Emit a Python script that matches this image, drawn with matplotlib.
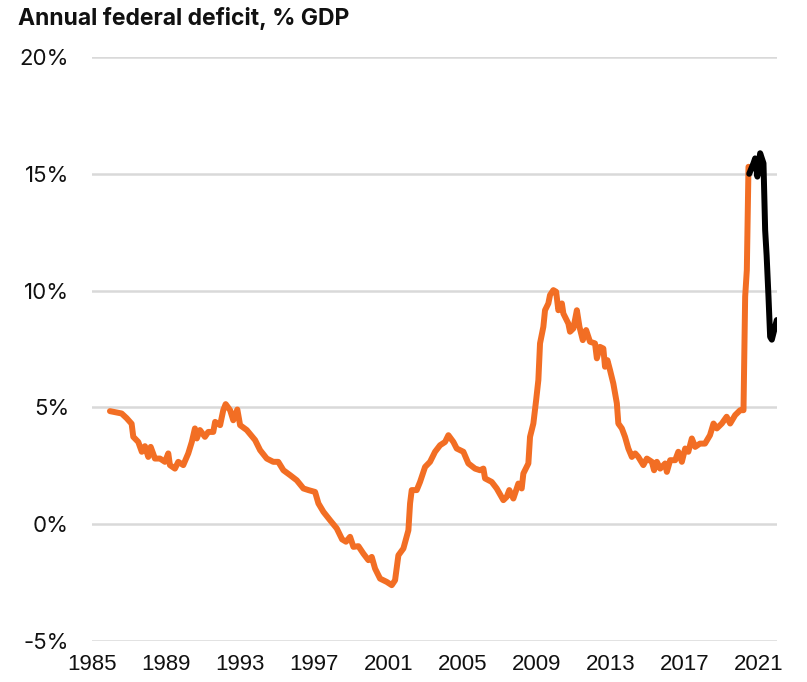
import matplotlib
matplotlib.use("Agg")
import matplotlib.pyplot as plt

# Annual federal deficit, % of GDP
hist_years = [1985.97, 1986.60, 1986.87, 1987.14, 1987.23, 1987.50, 1987.69, 1987.86, 1988.04, 1988.17,
              1988.40, 1988.67, 1988.94, 1989.12, 1989.21, 1989.48, 1989.66, 1989.93, 1990.20, 1990.39,
              1990.56, 1990.66, 1990.83, 1991.10, 1991.28, 1991.55, 1991.65, 1991.92, 1992.09, 1992.22,
              1992.46, 1992.63, 1992.85, 1993.00, 1993.36, 1993.81, 1994.08, 1994.44, 1994.79, 1995.06,
              1995.34, 1995.70, 1996.06, 1996.42, 1996.69, 1997.05, 1997.23, 1997.50, 1997.86, 1998.22,
              1998.51, 1998.72, 1998.94, 1999.12, 1999.39, 1999.66, 1999.93, 2000.11, 2000.29, 2000.56,
              2000.92, 2001.19, 2001.37, 2001.55, 2001.82, 2002.09, 2002.18, 2002.27, 2002.54, 2002.72,
              2002.99, 2003.26, 2003.53, 2003.80, 2004.07, 2004.25, 2004.52, 2004.70, 2005.06, 2005.33,
              2005.69, 2005.96, 2006.14, 2006.23, 2006.59, 2006.86, 2007.22, 2007.40, 2007.54, 2007.76,
              2008.03, 2008.21, 2008.30, 2008.57, 2008.66, 2008.84, 2008.99, 2009.11, 2009.20, 2009.38,
              2009.47, 2009.65, 2009.74, 2009.92, 2010.07, 2010.19, 2010.38, 2010.46, 2010.73, 2010.82,
              2011.00, 2011.19, 2011.33, 2011.51, 2011.69, 2011.90, 2012.17, 2012.27, 2012.44, 2012.62,
              2012.71, 2012.84, 2012.98, 2013.16, 2013.35, 2013.43, 2013.62, 2013.79, 2013.97, 2014.16,
              2014.34, 2014.51, 2014.78, 2014.97, 2015.24, 2015.36, 2015.51, 2015.69, 2015.96, 2016.05,
              2016.23, 2016.50, 2016.67, 2016.86, 2017.04, 2017.21, 2017.40, 2017.58, 2017.84, 2018.11,
              2018.38, 2018.57, 2018.75, 2019.02, 2019.28, 2019.47, 2019.74, 2020.01, 2020.19, 2020.28,
              2020.37, 2020.46]
hist_deficit = [4.84, 4.74, 4.54, 4.30, 3.74, 3.52, 3.10, 3.34, 2.88, 3.31,
                2.81, 2.81, 2.67, 3.03, 2.53, 2.38, 2.67, 2.53, 3.03, 3.52,
                4.10, 3.67, 4.03, 3.74, 3.95, 3.95, 4.38, 4.24, 4.88, 5.14,
                4.88, 4.45, 4.91, 4.24, 4.03, 3.60, 3.17, 2.81, 2.67, 2.67,
                2.31, 2.10, 1.88, 1.53, 1.46, 1.38, 0.89, 0.53, 0.17, -0.18,
                -0.65, -0.75, -0.54, -0.97, -0.94, -1.26, -1.54, -1.40, -1.90, -2.33,
                -2.47, -2.61, -2.40, -1.33, -1.04, -0.26, 0.89, 1.46, 1.46, 1.81,
                2.45, 2.67, 3.10, 3.38, 3.52, 3.81, 3.52, 3.24, 3.10, 2.60,
                2.38, 2.31, 2.38, 1.96, 1.81, 1.53, 1.03, 1.17, 1.46, 1.10,
                1.74, 1.53, 2.17, 2.60, 3.74, 4.31, 5.31, 6.17, 7.74, 8.45,
                9.16, 9.45, 9.81, 10.02, 9.95, 9.16, 9.45, 9.02, 8.59, 8.24,
                8.38, 9.16, 8.45, 7.88, 8.31, 7.81, 7.74, 7.10, 7.59, 7.52,
                6.74, 7.02, 6.60, 6.02, 5.17, 4.31, 4.10, 3.74, 3.24, 2.88,
                3.03, 2.88, 2.53, 2.81, 2.67, 2.31, 2.67, 2.38, 2.60, 2.24,
                2.74, 2.74, 3.10, 2.67, 3.24, 3.10, 3.67, 3.31, 3.45, 3.45,
                3.81, 4.31, 4.10, 4.31, 4.60, 4.31, 4.67, 4.88, 4.88, 9.74,
                10.88, 15.30]

recent_years = [2020.50, 2020.60, 2020.73, 2020.82, 2020.94, 2021.09, 2021.27, 2021.36, 2021.44,
                2021.54, 2021.63, 2021.72, 2021.85, 2021.99]
recent_deficit = [15.00, 15.20, 15.45, 15.66, 14.88, 15.88, 15.45, 12.59, 11.50,
                  9.74, 8.02, 7.90, 8.31, 8.74]

tick_years = [1985, 1989, 1993, 1997, 2001, 2005, 2009, 2013, 2017, 2021]
tick_pcts = [-5, 0, 5, 10, 15, 20]
title = "Annual federal deficit, % GDP"

fig = plt.figure(figsize=(8.07, 6.82), dpi=100)
ax = fig.add_axes([92 / 807, 1 - 641 / 682, (777 - 92) / 807, (641 - 57) / 682])

ax.plot(hist_years, hist_deficit, color="#F26E24", lw=4.3, solid_joinstyle="round",
        solid_capstyle="round", zorder=3)
ax.plot(recent_years, recent_deficit, color="black", lw=4.3, solid_joinstyle="round",
        solid_capstyle="round", zorder=4)

ax.set_xlim(1985, 2022)
ax.set_ylim(-5, 20)
ax.set_yticks(tick_pcts)
ax.set_yticklabels([f"{v}%" for v in tick_pcts], fontfamily="Inter", fontsize=16, color="#111111")
ax.set_xticks(tick_years)
ax.set_xticklabels([str(y) for y in tick_years], fontfamily="Liberation Sans", fontsize=16,
                   color="#111111")
ax.tick_params(axis="both", length=0)
ax.tick_params(axis="y", pad=16.5)
ax.tick_params(axis="x", pad=9)
ax.grid(axis="y", color="#d9d9d9", lw=1.8)
ax.set_axisbelow(True)
for s in ax.spines.values():
    s.set_visible(False)

fig.text(18 / 807, 1 - 19 / 682, title, fontfamily="Inter", fontweight="bold", fontsize=16.5,
         va="center", ha="left", color="#111111")

fig.savefig("out.png", dpi=100)
